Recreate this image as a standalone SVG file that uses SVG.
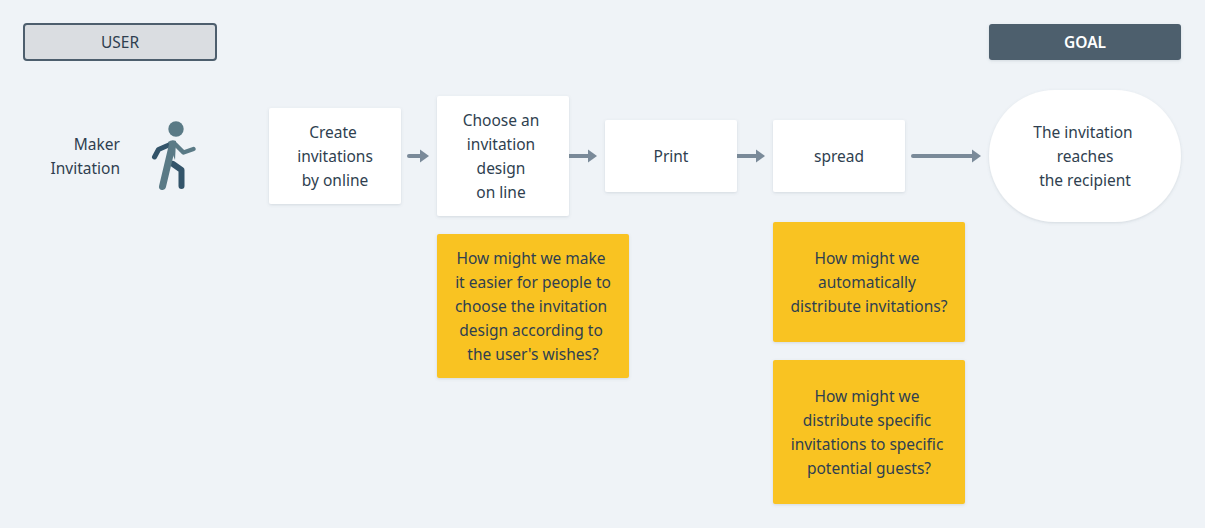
<svg xmlns="http://www.w3.org/2000/svg" width="1205" height="528" viewBox="0 0 1205 528">
<style>
text{font-family:"Noto Sans","Open Sans",sans-serif;font-size:15.5px;fill:#2f3f50;text-anchor:middle}
.card{fill:#fff;filter:url(#s)}
.note{fill:#f9c322;filter:url(#s)}
.c{stroke:#7a8a99;stroke-width:4;stroke-linecap:round;fill:none;marker-end:url(#a)}
.dk{stroke:#33546a;fill:none;stroke-linecap:round;stroke-linejoin:round}
.lt{stroke:#5a7a86;fill:none;stroke-linecap:round;stroke-linejoin:round}
</style>
<defs>
<filter id="s" x="-10%" y="-10%" width="120%" height="125%"><feDropShadow dx="0" dy="1" stdDeviation="1.5" flood-color="#6b7b8a" flood-opacity="0.22"/></filter>
<marker id="a" markerUnits="userSpaceOnUse" markerWidth="10" markerHeight="14" refX="1" refY="7" orient="auto"><path d="M0 0.5L9 7L0 13.5Z" fill="#7a8a99"/></marker>
</defs>
<rect width="1205" height="528" fill="#eff3f7"/>
<g id="connectors">
<path class="c" d="M409 156H421"/>
<path class="c" d="M569 156H589"/>
<path class="c" d="M737 156H757"/>
<path class="c" d="M913 156H973"/>
</g>
<g id="user"><rect x="24" y="24" width="192" height="36" rx="3" fill="#dadde1" stroke="#4d5e6d" stroke-width="2"/><text x="120" y="47.500">USER</text></g>
<g id="goal"><rect x="989" y="24" width="192" height="36" rx="3" fill="#4d5e6d" filter="url(#s)"/><text x="1085" y="47.500" style="fill:#fff;font-weight:600">GOAL</text></g>
<g id="maker"><text x="120" y="149.500" style="text-anchor:end">Maker</text><text x="120" y="173.500" style="text-anchor:end">Invitation</text></g>
<g id="person">
<path class="dk" stroke-width="5" d="M170 144.500L158.500 149.500L154.500 157"/>
<path class="dk" stroke-width="6" d="M173 164L181.500 170V186"/>
<path class="lt" stroke-width="4.500" d="M175 144L183.500 152.500L193.500 149"/>
<path class="lt" stroke-width="7" d="M172.500 144.500L162.500 186.500"/>
<path d="M168 142Q172 139 176 141L175 160Z" fill="#5a7a86"/>
<circle cx="176" cy="129" r="7.700" fill="#5a7a86"/>
</g>
<g id="create"><rect class="card" x="269" y="108" width="132" height="96" rx="2"/><text x="333" y="137.500">Create</text><text x="335" y="161.500">invitations</text><text x="335" y="185.500">by online</text></g>
<g id="choose"><rect class="card" x="437" y="96" width="132" height="120" rx="2"/><text x="501" y="125.500">Choose an</text><text x="501" y="149.500">invitation</text><text x="501" y="173.500">design</text><text x="501" y="197.500">on line</text></g>
<g id="print"><rect class="card" x="605" y="120" width="132" height="72" rx="2"/><text x="671" y="161.500">Print</text></g>
<g id="spread"><rect class="card" x="773" y="120" width="132" height="72" rx="2"/><text x="839" y="161.500">spread</text></g>
<g id="recipient"><rect class="card" x="989" y="90" width="192" height="132" rx="66"/><text x="1083" y="137.500">The invitation</text><text x="1085" y="161.500">reaches</text><text x="1085" y="185.500">the recipient</text></g>
<g id="hmw1"><rect class="note" x="437" y="234" width="192" height="144" rx="2"/><text x="531" y="263.500">How might we make</text><text x="533" y="287.500">it easier for people to</text><text x="531" y="311.500">choose the invitation</text><text x="531" y="335.500">design according to</text><text x="533" y="359.500">the user's wishes?</text></g>
<g id="hmw2"><rect class="note" x="773" y="222" width="192" height="120" rx="2"/><text x="867" y="263.500">How might we</text><text x="867" y="287.500">automatically</text><text x="869" y="311.500">distribute invitations?</text></g>
<g id="hmw3"><rect class="note" x="773" y="360" width="192" height="144" rx="2"/><text x="867" y="401.500">How might we</text><text x="867" y="425.500">distribute specific</text><text x="867" y="449.500">invitations to specific</text><text x="869" y="473.500">potential guests?</text></g>
</svg>
